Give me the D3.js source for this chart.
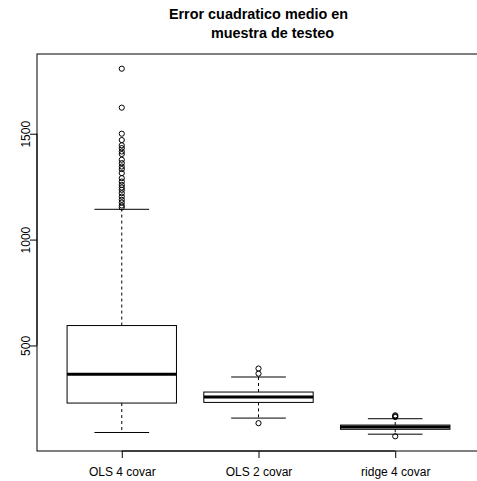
<!DOCTYPE html>
<html>
<head>
<meta charset="utf-8">
<script src="https://cdn.jsdelivr.net/npm/d3@7"></script>
<style>
  html, body { margin: 0; padding: 0; background: #fff; }
  svg { display: block; font-family: "Liberation Sans", Arial, Helvetica, sans-serif; }
</style>
</head>
<body>
<svg id="chart" width="477" height="481"></svg>
<script>
// ---- data ----
const categories   = ["OLS 4 covar", "OLS 2 covar", "ridge 4 covar"];
const lowerWhisker = [89, 157, 81];
const q1           = [228, 231, 104];
const medians      = [364, 257, 115];
const q3           = [594, 280, 124];
const upperWhisker = [1143, 351, 154];
const outliersOLS4 = [1807, 1623, 1500, 1470, 1445, 1432, 1416, 1404, 1377, 1361,
                      1345, 1333, 1314, 1290, 1274, 1258, 1246, 1235, 1219, 1203,
                      1188, 1175, 1161, 1152];
const outliersOLS2 = [391, 367, 133];
const outliersRidge = [170, 166, 162, 71];
const outliers = [outliersOLS4, outliersOLS2, outliersRidge];
const yTicks = [500, 1000, 1500];
const titleLines = ["Error cuadratico medio en", "muestra de testeo"];

// ---- layout ----
const W = 477, H = 481;
const plotLeft = 37, plotRight = 480, plotTop = 54, plotBottom = 451;

const svg = d3.select("#chart");

// y domain like R: data range extended by 4%
const allVals = lowerWhisker.concat(upperWhisker, ...outliers);
const yMin = d3.min(allVals), yMax = d3.max(allVals);
const pad = 0.04 * (yMax - yMin);
const y = d3.scaleLinear().domain([yMin - pad, yMax + pad]).range([plotBottom, plotTop]);

// x domain like R: 0.5..n+0.5 extended by 4%
const n = categories.length;
const xpad = 0.04 * n;
const x = d3.scaleLinear().domain([0.5 - xpad, n + 0.5 + xpad]).range([plotLeft, plotRight]);
const unit = x(1) - x(0);
const boxW = 0.8 * unit;
const capW = 0.5 * boxW;

const g = svg.append("g");

// boxes
categories.forEach((c, i) => {
  const cx = x(i + 1);
  // whiskers (dashed)
  g.append("line").attr("x1", cx).attr("x2", cx)
    .attr("y1", y(q3[i])).attr("y2", y(upperWhisker[i]))
    .attr("stroke", "#000").attr("stroke-width", 1).attr("stroke-dasharray", "3,3");
  g.append("line").attr("x1", cx).attr("x2", cx)
    .attr("y1", y(q1[i])).attr("y2", y(lowerWhisker[i]))
    .attr("stroke", "#000").attr("stroke-width", 1).attr("stroke-dasharray", "3,3");
  // caps
  [upperWhisker[i], lowerWhisker[i]].forEach(v => {
    g.append("line").attr("x1", cx - capW / 2).attr("x2", cx + capW / 2)
      .attr("y1", y(v)).attr("y2", y(v))
      .attr("stroke", "#000").attr("stroke-width", 1);
  });
  // box
  g.append("rect").attr("x", cx - boxW / 2).attr("width", boxW)
    .attr("y", y(q3[i])).attr("height", y(q1[i]) - y(q3[i]))
    .attr("fill", "none").attr("stroke", "#000").attr("stroke-width", 1);
  // median
  g.append("line").attr("x1", cx - boxW / 2).attr("x2", cx + boxW / 2)
    .attr("y1", y(medians[i])).attr("y2", y(medians[i]))
    .attr("stroke", "#000").attr("stroke-width", 3);
  // outliers
  g.selectAll(null).data(outliers[i]).enter().append("circle")
    .attr("cx", cx).attr("cy", d => y(d)).attr("r", 2.6)
    .attr("fill", "none").attr("stroke", "#000").attr("stroke-width", 1);
});

// frame
svg.append("rect")
  .attr("x", plotLeft).attr("y", plotTop)
  .attr("width", plotRight - plotLeft).attr("height", plotBottom - plotTop)
  .attr("fill", "none").attr("stroke", "#000").attr("stroke-width", 1);

// y axis
const yAxis = d3.axisLeft(y).tickValues(yTicks).tickSize(7).tickFormat(d3.format("d")).tickSizeOuter(0);
const ya = svg.append("g").attr("transform", `translate(${plotLeft},0)`).call(yAxis);
ya.select(".domain").attr("d", `M0,${y(yTicks[0])}V${y(yTicks[yTicks.length - 1])}`).attr("stroke", "#000");
ya.selectAll(".tick line").attr("stroke", "#000");
ya.selectAll(".tick text")
  .attr("x", null).attr("dy", null)
  .attr("transform", "translate(-7,0) rotate(-90)")
  .attr("text-anchor", "middle")
  .attr("y", 0)
  .attr("font-size", 12).attr("fill", "#000")
  .attr("font-family", "Liberation Sans, Arial, sans-serif");

// x axis
const xAxis = d3.axisBottom(x).tickValues(d3.range(1, n + 1)).tickSize(7)
  .tickFormat(d => categories[d - 1]).tickSizeOuter(0);
const xa = svg.append("g").attr("transform", `translate(0,${plotBottom})`).call(xAxis);
xa.select(".domain").attr("d", `M${x(1)},0H${x(n)}`).attr("stroke", "#000");
xa.selectAll(".tick line").attr("stroke", "#000");
xa.selectAll(".tick text")
  .attr("y", 25).attr("dy", null)
  .attr("font-size", 12).attr("fill", "#000")
  .attr("font-family", "Liberation Sans, Arial, sans-serif");

// title
const titleX = (plotLeft + plotRight) / 2;
svg.append("text").attr("x", titleX).attr("y", 19)
  .attr("text-anchor", "middle").attr("font-weight", "bold").attr("font-size", 14.4)
  .text(titleLines[0]);
svg.append("text").attr("x", titleX + 14).attr("y", 38)
  .attr("text-anchor", "middle").attr("font-weight", "bold").attr("font-size", 14.4)
  .text(titleLines[1]);
</script>
</body>
</html>
